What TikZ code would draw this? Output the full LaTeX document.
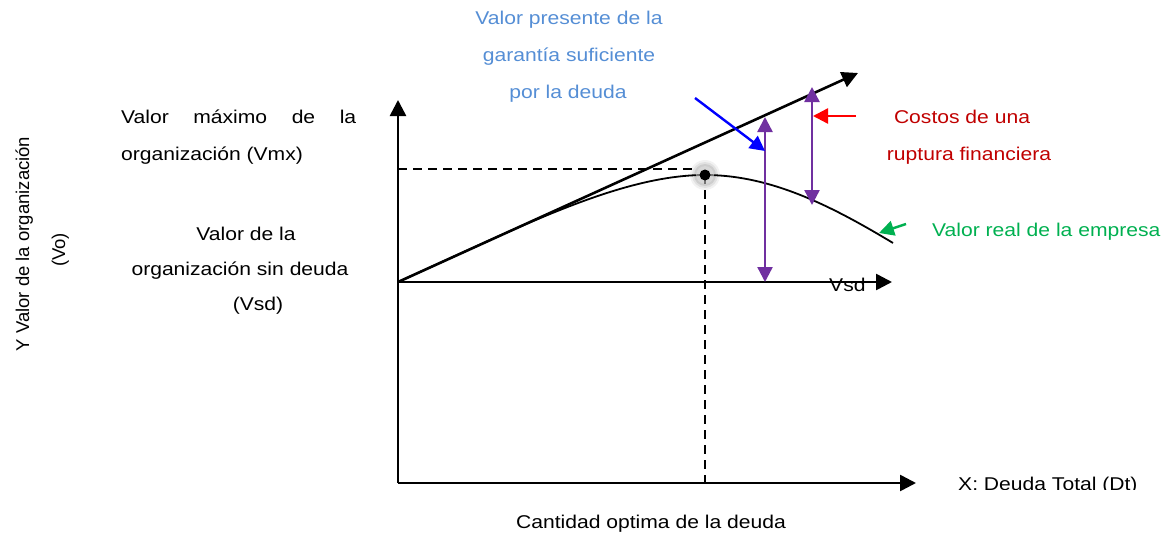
\documentclass[tikz,border=0pt]{standalone}
\usepackage{fontspec}
\setmainfont{Liberation Sans}[FakeStretch=1.14]
\newfontfamily\rotfont{Liberation Sans}
\usetikzlibrary{arrows.meta}
\definecolor{vpurple}{HTML}{7030A0}
\definecolor{vblue}{HTML}{0000FF}
\definecolor{vred}{HTML}{FF0000}
\definecolor{vgreen}{HTML}{00B050}
\definecolor{tblue}{HTML}{558ED5}
\definecolor{tred}{HTML}{C00000}
\tikzset{
  txt/.style={inner sep=0pt, font=\fontsize{18.5}{22}\selectfont},
  axis/.style={line width=2.6pt, -{Triangle[length=16pt,width=16pt]}},
  dbl/.style={line width=2.4pt, vpurple, {Triangle[length=15pt,width=15pt]}-{Triangle[length=15pt,width=15pt]}},
  pointer/.style={line width=2.4pt, -{Triangle[length=15pt,width=15pt]}},
  guide/.style={line width=2.4pt, dash pattern=on 9pt off 6pt},
}
\begin{document}
\begin{tikzpicture}[x=1pt,y=-1pt]
\useasboundingbox (0,0) rectangle (1170,535);
% coordinates
\coordinate (O) at (398,282);
\coordinate (B) at (398,483);
\coordinate (Ytip) at (398,100);
\coordinate (Xtip) at (916,483);
\coordinate (Vtip) at (892,282);
\coordinate (Ltip) at (858,73);
\coordinate (P) at (705,175);
\coordinate (E) at (893,243);
\coordinate (Hs) at (398,169);
\coordinate (He) at (697,169);
\coordinate (Vb) at (705,483);
\coordinate (A1t) at (765,117);
\coordinate (A1b) at (765,282);
\coordinate (A2t) at (812,87);
\coordinate (A2b) at (812,205);
\coordinate (Bs) at (695,98);
\coordinate (Be) at (765,151);
\coordinate (Rs) at (856,116);
\coordinate (Re) at (813,116);
\coordinate (Gs) at (906,224);
\coordinate (Ge) at (879,233);
% axes
\draw[axis] (B) -- (Ytip);
\draw[axis] (B) -- (Xtip);
\draw[axis] (O) -- (Vtip);
\draw[axis] (O) -- (Ltip);
% dashed guides
\draw[guide] (Hs) -- (He);
\draw[guide] (P) -- (Vb);
% curve
\draw[line width=1.8pt] (O) .. controls (520,227) and (620,175) .. (P)
   .. controls (770,175) and (830,205) .. (E);
% optimum dot with halo
\foreach \r/\o in {15/0.05,13/0.07,11/0.09,9/0.11} \fill[black,opacity=\o] (P) circle (\r pt);
\fill[white,opacity=0.45] (P) circle (9pt);
\node[circle,fill=black,inner sep=0pt,minimum size=11pt] (dot) at (P) {};
% double arrows
\draw[dbl] (A1b) -- (A1t);
\draw[dbl] (A2b) -- (A2t);
% pointers
\draw[pointer,vblue] (Bs) -- (Be);
\draw[pointer,vred] (Rs) -- (Re);
\draw[pointer,vgreen] (Gs) -- (Ge);
% texts
\node[txt,tblue,anchor=base] (vp1) at (569,25) {Valor presente de la};
\node[txt,tblue,anchor=base] (vp2) at (569,62) {garantía suficiente};
\node[txt,tblue,anchor=base] (vp3) at (568,98) {por la deuda};
\node[txt,anchor=base west] (vm1) at (121,123) {\makebox[235pt][s]{Valor máximo de la}};
\node[txt,anchor=base west] (vm2) at (121,160) {organización (Vmx)};
\node[txt,anchor=base] (vs1) at (246,240) {Valor de la};
\node[txt,anchor=base] (vs2) at (240,275) {organización sin deuda};
\node[txt,anchor=base] (vs3) at (258,310) {(Vsd)};
\node[txt,tred,anchor=base] (cr1) at (962,123) {Costos de una};
\node[txt,tred,anchor=base] (cr2) at (969,160) {ruptura financiera};
\node[txt,vgreen,anchor=base west] (vr) at (932,236) {Valor real de la empresa};
\node[txt,anchor=base west] (vsd) at (829,291) {Vsd};
\begin{scope}
\clip (930,460) rectangle (1170,489);
\node[txt,anchor=base west] (xl) at (958,490) {X: Deuda Total (Dt)};
\end{scope}
\node[txt,anchor=base] (cq) at (651,528) {Cantidad optima de la deuda};
\node[txt,font=\rotfont\fontsize{18.5}{22}\selectfont,rotate=90,anchor=base] (yl1) at (29,244) {Y Valor de la organización};
\node[txt,font=\rotfont\fontsize{18.5}{22}\selectfont,rotate=90,anchor=base] (yl2) at (65,250) {(Vo)};
\end{tikzpicture}
\end{document}
